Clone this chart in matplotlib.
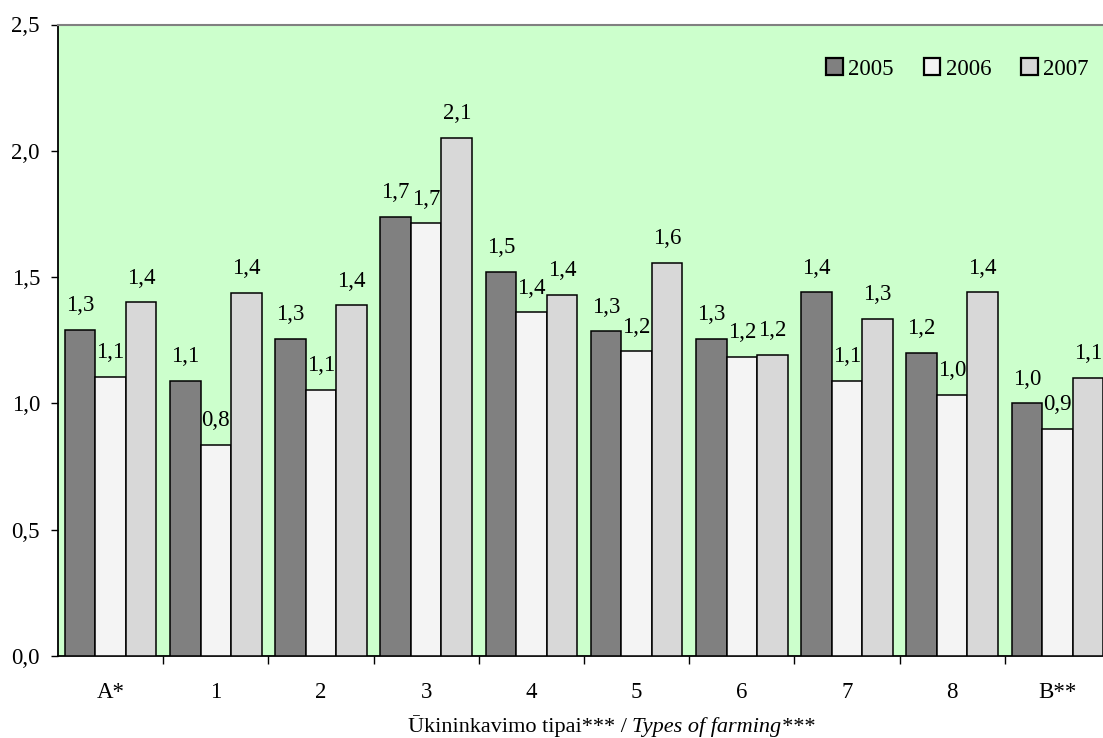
import numpy as np
import matplotlib
matplotlib.use("Agg")
from matplotlib import pyplot as plt
from matplotlib.patches import Patch

# Ukininkavimo tipai / types of farming
categories = ["A*", "1", "2", "3", "4", "5", "6", "7", "8", "B**"]
years      = ["2005", "2006", "2007"]

values2005 = [1.29, 1.09, 1.255, 1.737, 1.52, 1.285, 1.255, 1.44, 1.20, 1.00]
values2006 = [1.105, 0.835, 1.055, 1.713, 1.36, 1.206, 1.183, 1.09, 1.035, 0.90]
values2007 = [1.40, 1.437, 1.388, 2.052, 1.43, 1.557, 1.192, 1.335, 1.44, 1.10]

yTicks      = [0.0, 0.5, 1.0, 1.5, 2.0, 2.5]
barColors   = ["#808080", "#f4f4f4", "#d8d8d8"]
plotBgColor = "#ccffcc"

plt.rcParams['font.family'] = ['Liberation Serif', 'DejaVu Serif']

W, H = 1103, 738
fig = plt.figure(figsize=(W / 100, H / 100), dpi=100)
# plot area runs a bit past the right edge of the picture, like the original
ax = fig.add_axes([58 / W, (H - 656) / H, (1110 - 58) / W, (656 - 24.5) / H])
ax.set_facecolor(plotBgColor)

x = np.arange(len(categories))
barWidth = 0.29
allSeries = [values2005, values2006, values2007]

for i, (vals, col) in enumerate(zip(allSeries, barColors)):
    xs = x + (i - 1) * barWidth
    ax.bar(xs, vals, width=barWidth, color=col, edgecolor="black",
           linewidth=1.1, zorder=3)
    for xx, v in zip(xs, vals):
        ax.annotate(f"{v:.1f}".replace(".", ","), (xx, v),
                    xytext=(0, 13.5), textcoords="offset points",
                    ha="center", va="baseline", fontsize=16.5, zorder=4)

ax.set_xlim(-0.5, len(categories) - 0.5)
ax.set_ylim(0, 2.5)

ax.set_yticks(yTicks)
ax.set_yticklabels([f"{t:.1f}".replace(".", ",") for t in yTicks])
ax.tick_params(axis="y", direction="out", length=5, width=1, pad=8, labelsize=16.5)

ax.set_xticks(x)
ax.set_xticklabels(categories)
ax.set_xticks(np.arange(len(categories)) + 0.5, minor=True)
ax.tick_params(axis="x", which="major", length=0, pad=19, labelsize=16.5)
ax.tick_params(axis="x", which="minor", direction="out", length=6, width=1)

for s in ["left", "bottom"]:
    ax.spines[s].set_color("black")
    ax.spines[s].set_linewidth(1.3)
ax.spines["top"].set_color("#808080")
ax.spines["top"].set_linewidth(1.5)
ax.spines["right"].set_visible(False)

handles = [Patch(facecolor=c, edgecolor="black", linewidth=1.6) for c in barColors]
fig.legend(handles, years, loc="center left", bbox_to_anchor=(826 / W, (H - 69) / H),
           ncol=3, frameon=False, fontsize=16.5, handlelength=0.72, handleheight=0.72,
           handletextpad=0.25, columnspacing=1.3, borderaxespad=0, borderpad=0)

# axis title: plain Lithuanian part + italic English part
splitX = 632 / W
fig.text(splitX, (H - 732) / H, "Ūkininkavimo tipai*** / ", ha="right",
         va="baseline", fontsize=16)
fig.text(splitX, (H - 732) / H, "Types of farming***", ha="left",
         va="baseline", fontsize=16, style="italic")

fig.savefig("out.png", dpi=100)
